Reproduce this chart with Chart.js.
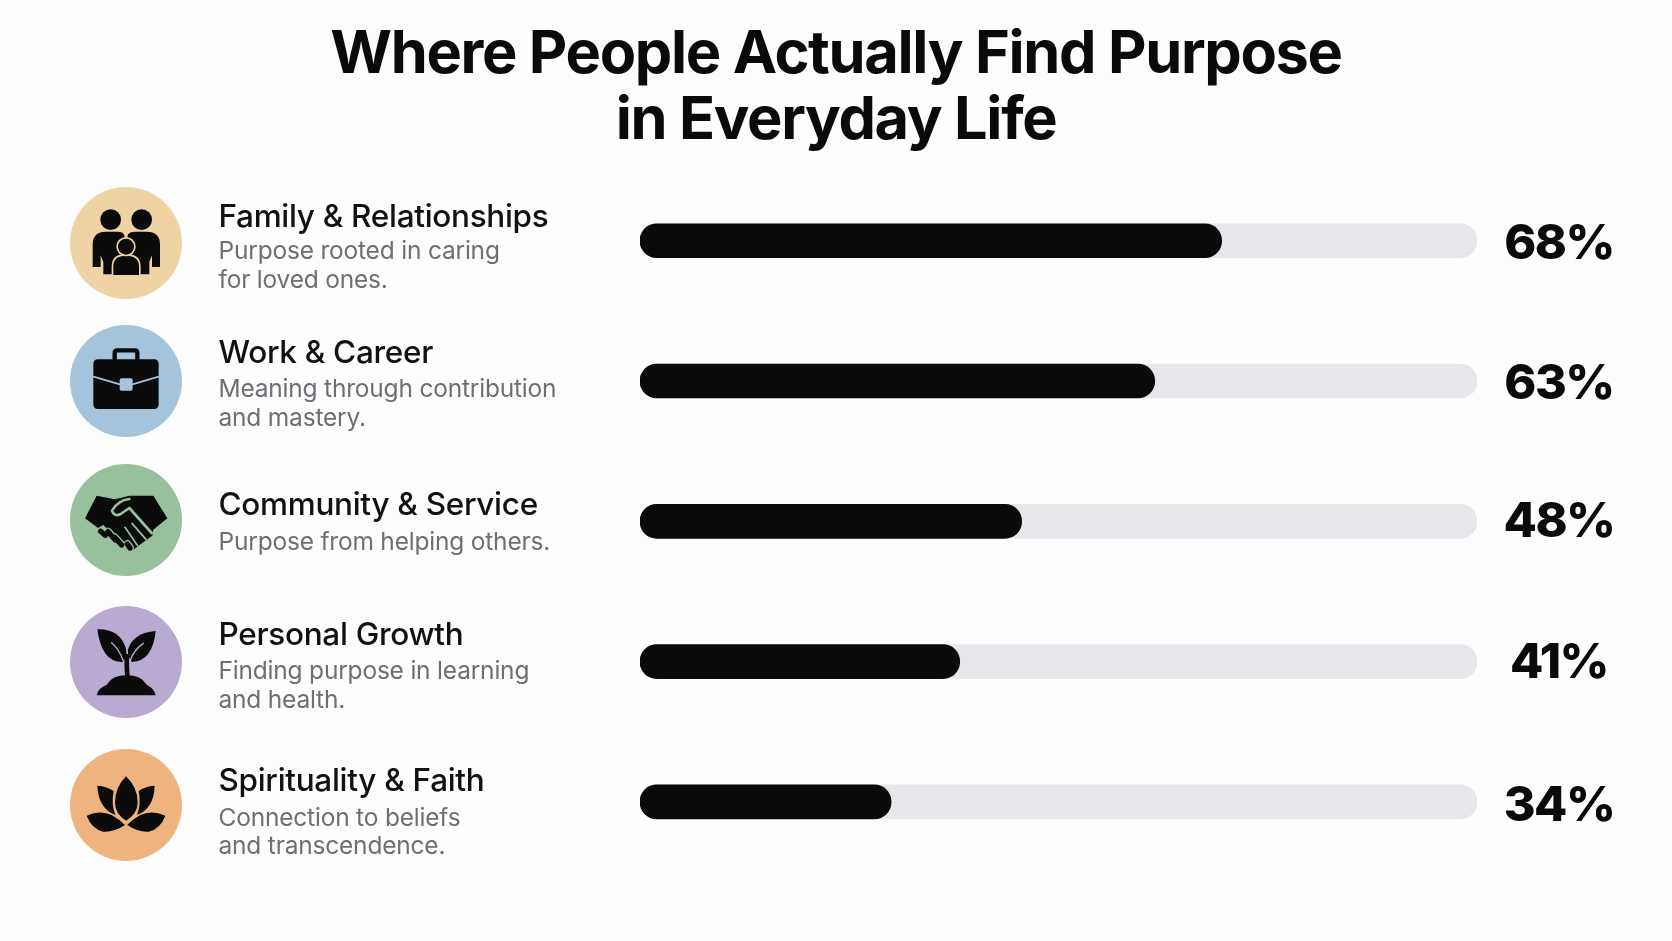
<!DOCTYPE html>
<html>
<head>
<meta charset="utf-8">
<title>Where People Actually Find Purpose in Everyday Life</title>
<style>
html,body{margin:0;padding:0;background:#fdfdfd;}
canvas{display:block;}
</style>
<script src="https://cdn.jsdelivr.net/npm/chart.js@4"></script>
</head>
<body>
<canvas id="c" width="1672" height="941"></canvas>
<script>
// ---- data ----
const titleLines = ["Where People Actually Find Purpose", "in Everyday Life"];
const categories = ["Family & Relationships", "Work & Career", "Community & Service", "Personal Growth", "Spirituality & Faith"];
const descriptions = [
  ["Purpose rooted in caring", "for loved ones."],
  ["Meaning through contribution", "and mastery."],
  ["Purpose from helping others."],
  ["Finding purpose in learning", "and health."],
  ["Connection to beliefs", "and transcendence."]
];
const printedPercent = [68, 63, 48, 41, 34];          // the numbers printed at the right
const drawnBarLength = [69.5, 61.5, 45.6, 38.2, 30];  // bar length as drawn, in % of the track (the picture's bars do not match the printed numbers exactly)
const trackLength = [100, 100, 100, 100, 100];
const circleColors = ["#EFD3A5", "#A4C4DB", "#97C19C", "#B9AAD2", "#EFB37F"];

// ---- layout (annotations, not data) ----
const ICON_X = 70, ICON_TOPS = [187, 325, 464, 606, 749];
const CIRCLE = {cx: 56, cy: 56, r: 56};
const TEXT_X = 218.5, PCT_X = 1559;
const HEAD_BASE = [227, 363, 515, 645, 791];
const DESC_BASE = [[259, 288], [397, 426], [550], [679, 708], [826, 854]];
const PCT_BASE = [259, 399, 537, 678, 821];

// icons, drawn in a 336-unit box (3 units = 1 pixel)
const icons = [
  g => { // family
    g.circle(122, 98, 31); g.circle(215, 98, 31);
    g.fill("M68 240V172Q68 134 108 134H140Q164 134 164 150V262H100V225L92 205V240Z");
    g.fill("M270 240V172Q270 134 230 134H198Q172 134 172 150V262H238V225L246 205V240Z");
    g.outlined("M130 264V238Q130 206 168 206Q207 206 207 238V264Z");
    g.outlinedCircle(168, 179, 24);
  },
  g => { // briefcase
    g.strokeBlack("M134 110V84Q134 76 142 76H194Q202 76 202 84V110", 13);
    g.fill("M84 103H252Q266 103 266 117V238Q266 252 252 252H84Q70 252 70 238V117Q70 103 84 103Z");
    g.stroke("M70 155L150 178M187 178L266 155", 5);
    g.fillBg("M155 160H182Q188 160 188 166V191Q188 197 182 197H155Q149 197 149 191V166Q149 160 155 160Z");
  },
  g => { // handshake
    g.fill("M45 163L80 95L135 106L178 95L250 95L292 163L250 197L247 215L205 245L185 262L168 250L100 183L84 192Z");
    g.stroke("M178 105Q145 108 126 140Q132 160 152 150L178 132L245 207", 8);
    g.stroke("M186 178L228 226M165 190L202 244", 5);
    g.capsule("M92 202L106 214M114 203L136 228M134 220L155 243M172 240L180 252", 16);
  },
  g => { // sprout
    g.fill("M82 70Q150 68 168 128Q172 152 158 168Q95 170 82 70Z");
    g.fill("M257 75Q190 80 174 130Q172 152 186 168Q248 165 257 75Z");
    g.stroke("M125 110Q148 130 160 165M220 112Q192 130 180 165", 4);
    g.strokeBlack("M172 212Q170 185 170 150", 14);
    g.fill("M80 268Q84 246 110 236Q126 208 170 208Q214 208 230 236Q252 246 257 268Z");
  },
  g => { // lotus
    g.fill("M168 82Q135 115 135 160Q135 195 168 215Q203 195 203 160Q203 115 168 82Z");
    g.fill("M82 110Q112 112 131 126Q123 165 136 198Q85 178 82 110Z");
    g.fill("M254 110Q224 112 206 126Q214 165 201 198Q252 178 254 110Z");
    g.fill("M50 200Q90 182 125 198Q150 212 165 228Q132 250 100 248Q65 240 50 200Z");
    g.fill("M286 200Q246 182 211 198Q186 212 172 228Q204 250 236 248Q271 240 286 200Z");
  }
];

function drawIcon(ctx, index) {
  const color = circleColors[index];
  const BLACK = "#0b0b0b";
  ctx.save();
  ctx.translate(ICON_X, ICON_TOPS[index]);
  ctx.fillStyle = color;
  ctx.beginPath();
  ctx.arc(CIRCLE.cx, CIRCLE.cy, CIRCLE.r, 0, Math.PI * 2);
  ctx.fill();
  ctx.scale(1 / 3, 1 / 3);
  ctx.lineCap = "round"; ctx.lineJoin = "round";
  const g = {
    fill(d) { ctx.fillStyle = BLACK; ctx.fill(new Path2D(d)); },
    fillBg(d) { ctx.fillStyle = color; ctx.fill(new Path2D(d)); },
    stroke(d, w) { ctx.strokeStyle = color; ctx.lineWidth = w; ctx.stroke(new Path2D(d)); },
    strokeBlack(d, w) { ctx.strokeStyle = BLACK; ctx.lineWidth = w; ctx.stroke(new Path2D(d)); },
    capsule(d, w) {
      const p = new Path2D(d);
      ctx.strokeStyle = color; ctx.lineWidth = w + 8; ctx.stroke(p);
      ctx.strokeStyle = BLACK; ctx.lineWidth = w; ctx.stroke(p);
    },
    circle(x, y, r) { ctx.fillStyle = BLACK; ctx.beginPath(); ctx.arc(x, y, r, 0, Math.PI * 2); ctx.fill(); },
    outlined(d) {
      const p = new Path2D(d);
      ctx.strokeStyle = color; ctx.lineWidth = 10; ctx.stroke(p);
      ctx.fillStyle = BLACK; ctx.fill(p);
    },
    outlinedCircle(x, y, r) {
      ctx.fillStyle = color; ctx.beginPath(); ctx.arc(x, y, r + 5, 0, Math.PI * 2); ctx.fill();
      ctx.fillStyle = BLACK; ctx.beginPath(); ctx.arc(x, y, r, 0, Math.PI * 2); ctx.fill();
    }
  };
  icons[index](g);
  ctx.restore();
}

const FONT = "Inter, 'Noto Sans', sans-serif";

const rowAnnotations = {
  id: "rowAnnotations",
  beforeDraw(chart) { chart.ctx.letterSpacing = "-1.33px"; },
  beforeDatasetsDraw(chart) { chart.ctx.letterSpacing = "0px"; },
  afterDraw(chart) {
    const ctx = chart.ctx;
    ctx.save();
    ctx.textBaseline = "alphabetic";
    categories.forEach((name, i) => {
      drawIcon(ctx, i);
      ctx.textAlign = "left";
      ctx.fillStyle = "#111111";
      ctx.font = "500 31.5px " + FONT;
      ctx.letterSpacing = "-0.3px";
      ctx.fillText(name, TEXT_X, HEAD_BASE[i]);
      ctx.fillStyle = "#6d6f74";
      ctx.font = "400 24.5px " + FONT;
      ctx.letterSpacing = "-0.2px";
      descriptions[i].forEach((line, j) => ctx.fillText(line, TEXT_X, DESC_BASE[i][j]));
      ctx.textAlign = "center";
      ctx.fillStyle = "#0a0a0a";
      ctx.font = "800 48.5px " + FONT;
      ctx.letterSpacing = "-1.5px";
      ctx.fillText(printedPercent[i] + "%", PCT_X, PCT_BASE[i]);
    });
    ctx.restore();
  }
};

new Chart(document.getElementById("c"), {
  type: "bar",
  data: {
    labels: categories,
    datasets: [
      { label: "Share of people", data: drawnBarLength, backgroundColor: "#0a0a0a" },
      { label: "Track", data: trackLength, backgroundColor: "#E6E7EB" }
    ]
  },
  options: {
    indexAxis: "y",
    responsive: false,
    devicePixelRatio: 1,
    animation: false,
    layout: { padding: { left: 0, right: 0, top: 0, bottom: 69 } },
    datasets: {
      bar: { barThickness: 34, borderRadius: 17, borderSkipped: false, grouped: false }
    },
    scales: {
      x: { min: 0, max: 100, display: false },
      y: {
        display: true, position: "left",
        ticks: { display: false }, grid: { display: false }, border: { display: false },
        afterFit(s) { s.width = 640; }
      },
      y2: {
        type: "linear", display: true, position: "right",
        ticks: { display: false }, grid: { display: false }, border: { display: false },
        afterFit(s) { s.width = 195; }
      }
    },
    plugins: {
      legend: { display: false },
      tooltip: { enabled: false },
      title: {
        display: true,
        text: titleLines,
        color: "#0a0a0a",
        align: "center",
        fullSize: true,
        font: { family: FONT, size: 59.5, weight: "700", lineHeight: 66 / 59.5 },
        padding: { top: 22.2, bottom: 16.4 }
      }
    }
  },
  plugins: [rowAnnotations]
});
</script>
</body>
</html>
